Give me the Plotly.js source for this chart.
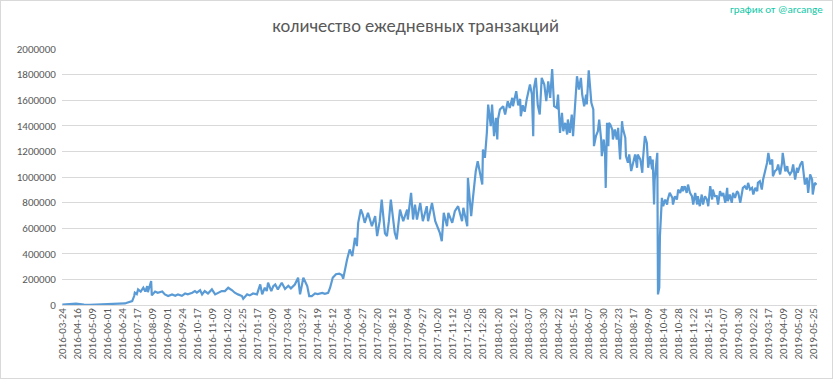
<!DOCTYPE html>
<html>
<head>
<meta charset="utf-8">
<script src="https://cdn.plot.ly/plotly-3.0.1.min.js"></script>
<style>
  html, body { margin: 0; padding: 0; background: #fff; }
  #chart { width: 833px; height: 379px; box-sizing: border-box; border: 1px solid #d9d9d9; }
</style>
</head>
<body>
<div id="chart"></div>
<script>
// ---- data ----
const FIRST_DAY = "2016-03-24";
const LAST_DAY = "2019-05-30";
const MISSING_DAYS = ["2018-08-15", "2018-08-16", "2018-10-02", "2018-10-03", "2018-10-27", "2018-11-20", "2018-11-21"];

const dates = [
"2016-03-24","2016-04-02","2016-04-08","2016-04-14","2016-04-20","2016-04-26","2016-05-05","2016-05-15","2016-05-24","2016-05-30",
"2016-06-05","2016-06-11","2016-06-17","2016-06-23","2016-06-28","2016-07-01","2016-07-06","2016-07-09","2016-07-12","2016-07-13",
"2016-07-16","2016-07-18","2016-07-22","2016-07-26","2016-07-29","2016-08-01","2016-08-02","2016-08-07","2016-08-08","2016-08-13",
"2016-08-17","2016-08-24","2016-08-28","2016-09-02","2016-09-08","2016-09-13","2016-09-17","2016-09-23","2016-09-28","2016-10-02",
"2016-10-09","2016-10-13","2016-10-16","2016-10-21","2016-10-24","2016-10-28","2016-11-02","2016-11-08","2016-11-13","2016-11-17",
"2016-11-23","2016-11-28","2016-12-03","2016-12-09","2016-12-13","2016-12-18","2016-12-24","2016-12-26","2017-01-01","2017-01-05",
"2017-01-10","2017-01-16","2017-01-21","2017-01-24","2017-01-28","2017-01-31","2017-02-02","2017-02-07","2017-02-10","2017-02-13",
"2017-02-17","2017-02-23","2017-02-28","2017-03-05","2017-03-09","2017-03-15","2017-03-20","2017-03-23","2017-03-28","2017-04-03",
"2017-04-06","2017-04-10","2017-04-15","2017-04-19","2017-04-26","2017-04-30","2017-05-05","2017-05-08","2017-05-12","2017-05-17",
"2017-05-22","2017-05-26","2017-05-28","2017-06-03","2017-06-07","2017-06-11","2017-06-15","2017-06-18","2017-06-20","2017-06-24",
"2017-06-27","2017-06-30","2017-07-05","2017-07-11","2017-07-16","2017-07-19","2017-07-23","2017-07-26","2017-07-30","2017-07-31",
"2017-08-03","2017-08-06","2017-08-09","2017-08-12","2017-08-15","2017-08-18","2017-08-23","2017-08-28","2017-09-03","2017-09-04",
"2017-09-09","2017-09-12","2017-09-15","2017-09-18","2017-09-23","2017-09-27","2017-10-03","2017-10-05","2017-10-11","2017-10-16",
"2017-10-19","2017-10-23","2017-10-26","2017-10-29","2017-11-03","2017-11-05","2017-11-11","2017-11-15","2017-11-20","2017-11-26",
"2017-11-28","2017-12-04","2017-12-05","2017-12-10","2017-12-13","2017-12-17","2017-12-20","2017-12-27","2017-12-28","2017-12-31",
"2018-01-03","2018-01-05","2018-01-09","2018-01-11","2018-01-14","2018-01-17","2018-01-19","2018-01-20","2018-01-23","2018-01-28",
"2018-01-31","2018-02-04","2018-02-07","2018-02-11","2018-02-12","2018-02-17","2018-02-20","2018-02-23","2018-02-24","2018-02-27",
"2018-03-02","2018-03-05","2018-03-10","2018-03-13","2018-03-15","2018-03-16","2018-03-19","2018-03-22","2018-03-25","2018-03-28",
"2018-04-01","2018-04-04","2018-04-07","2018-04-10","2018-04-13","2018-04-16","2018-04-20","2018-04-22","2018-04-25","2018-04-28",
"2018-04-30","2018-05-03","2018-05-06","2018-05-07","2018-05-10","2018-05-13","2018-05-15","2018-05-18","2018-05-21","2018-05-24",
"2018-05-27","2018-05-29","2018-06-01","2018-06-04","2018-06-05","2018-06-08","2018-06-12","2018-06-15","2018-06-16","2018-06-19",
"2018-06-22","2018-06-24","2018-06-27","2018-06-28","2018-07-01","2018-07-03","2018-07-04","2018-07-06","2018-07-08","2018-07-09",
"2018-07-11","2018-07-14","2018-07-15","2018-07-18","2018-07-21","2018-07-23","2018-07-26","2018-07-29","2018-07-30","2018-08-03",
"2018-08-04","2018-08-07","2018-08-09","2018-08-12","2018-08-17","2018-08-20","2018-08-23","2018-08-24","2018-08-28","2018-08-31",
"2018-09-01","2018-09-04","2018-09-07","2018-09-09","2018-09-12","2018-09-15","2018-09-16","2018-09-18","2018-09-19","2018-09-23",
"2018-09-24","2018-09-26","2018-09-27","2018-09-30","2018-10-04","2018-10-07","2018-10-10","2018-10-11","2018-10-14","2018-10-18",
"2018-10-19","2018-10-22","2018-10-25","2018-10-28","2018-10-31","2018-11-03","2018-11-04","2018-11-07","2018-11-10","2018-11-12",
"2018-11-15","2018-11-18","2018-11-22","2018-11-25","2018-11-28","2018-11-29","2018-12-02","2018-12-05","2018-12-07","2018-12-10",
"2018-12-13","2018-12-15","2018-12-18","2018-12-21","2018-12-22","2018-12-25","2018-12-28","2018-12-30","2019-01-02","2019-01-05",
"2019-01-07","2019-01-10","2019-01-13","2019-01-14","2019-01-17","2019-01-20","2019-01-22","2019-01-25","2019-01-28","2019-01-30",
"2019-02-02","2019-02-05","2019-02-06","2019-02-09","2019-02-12","2019-02-14","2019-02-17","2019-02-20","2019-02-22","2019-02-25",
"2019-02-28","2019-03-01","2019-03-04","2019-03-07","2019-03-09","2019-03-12","2019-03-15","2019-03-17","2019-03-20","2019-03-23",
"2019-03-24","2019-03-27","2019-03-30","2019-04-01","2019-04-04","2019-04-07","2019-04-08","2019-04-12","2019-04-15","2019-04-16",
"2019-04-19","2019-04-22","2019-04-24","2019-04-27","2019-04-30","2019-05-01","2019-05-05","2019-05-08","2019-05-09","2019-05-12",
"2019-05-15","2019-05-17","2019-05-20","2019-05-23","2019-05-24","2019-05-27","2019-05-30"
];

const transactions = [
3000,8000,10000,10000,8000,3000,2000,3000,4000,8000,
5000,9000,6000,10000,12000,18000,25000,31000,70000,96000,
85000,122000,105000,135000,105000,148000,100000,187000,75000,105000,
95000,105000,83000,70000,83000,72000,83000,72000,90000,83000,
96000,109000,96000,115000,83000,109000,90000,122000,83000,96000,
109000,109000,135000,115000,96000,83000,70000,49000,83000,75000,
90000,83000,161000,83000,135000,109000,174000,109000,148000,160000,
122000,174000,125000,150000,130000,160000,213000,83000,213000,148000,
70000,70000,90000,85000,95000,88000,95000,135000,213000,240000,
245000,235000,205000,356000,434000,382000,525000,460000,642000,746000,
707000,642000,720000,616000,694000,538000,655000,824000,616000,560000,
538000,655000,824000,668000,564000,512000,746000,655000,746000,668000,
876000,668000,785000,668000,798000,655000,772000,655000,798000,655000,
616000,564000,499000,720000,616000,720000,642000,733000,772000,655000,
759000,616000,993000,694000,850000,1045000,1123000,941000,1214000,1150000,
1345000,1566000,1397000,1566000,1319000,1462000,1293000,1449000,1527000,1553000,
1488000,1592000,1540000,1618000,1553000,1670000,1560000,1610000,1475000,1560000,
1510000,1605000,1722000,1644000,1319000,1690000,1774000,1560000,1488000,1774000,
1722000,1592000,1748000,1618000,1844000,1553000,1540000,1644000,1345000,1501000,
1358000,1423000,1332000,1449000,1345000,1488000,1319000,1592000,1787000,1683000,
1774000,1644000,1553000,1644000,1566000,1834000,1579000,1527000,1241000,1319000,
1358000,1449000,1293000,1163000,1293000,1176000,915000,1423000,1241000,1423000,
1410000,1371000,1293000,1371000,1293000,1384000,1137000,1436000,1384000,1306000,
1163000,1111000,1176000,1046000,1123000,1176000,1072000,1176000,1137000,1033000,
1137000,1319000,1267000,1072000,1163000,1059000,1137000,785000,980000,1189000,
83000,135000,538000,837000,772000,824000,785000,824000,876000,837000,
785000,850000,824000,902000,876000,928000,889000,928000,876000,941000,
876000,850000,785000,876000,785000,850000,772000,863000,785000,850000,
824000,772000,928000,824000,902000,850000,850000,785000,889000,850000,
876000,798000,915000,811000,863000,798000,876000,837000,889000,876000,
798000,876000,915000,928000,902000,954000,902000,915000,863000,915000,
889000,954000,967000,902000,980000,1045000,1110000,1189000,1098000,1137000,
1006000,1045000,1059000,1098000,1020000,1111000,1189000,1045000,1085000,1045000,
1020000,1045000,1098000,980000,1072000,1033000,1098000,1123000,1059000,941000,
993000,876000,1020000,980000,863000,954000,941000
];

const TITLE = "количество ежедневных транзакций";
const CREDIT = "график от @arcange";

// ---- category list (one per reported day) ----
function buildCategories() {
  const out = [];
  const skip = new Set(MISSING_DAYS);
  const d = new Date(FIRST_DAY + "T00:00:00Z");
  const end = new Date(LAST_DAY + "T00:00:00Z");
  while (d <= end) {
    const s = d.toISOString().slice(0, 10);
    if (!skip.has(s)) out.push(s);
    d.setUTCDate(d.getUTCDate() + 1);
  }
  return out;
}
const categories = buildCategories();

const FONT = "Carlito, Lato, 'Open Sans', sans-serif";

const trace = {
  type: "scatter",
  mode: "lines",
  x: dates,
  y: transactions,
  line: { color: "#5B9BD5", width: 2.2 },
  hoverinfo: "x+y"
};

const layout = {
  width: 831,
  height: 377,
  margin: { l: 61, r: 15, t: 48, b: 73 },
  paper_bgcolor: "#ffffff",
  plot_bgcolor: "#ffffff",
  showlegend: false,
  font: { family: FONT, color: "#595959", size: 11 },
  title: {
    text: TITLE,
    x: 0.499, xanchor: "center",
    y: 0.935, yanchor: "middle",
    font: { family: FONT, size: 18.5, color: "#595959", weight: 300 }
  },
  xaxis: {
    type: "category",
    categoryorder: "array",
    categoryarray: categories,
    range: [-0.5, categories.length - 0.5],
    tickmode: "linear",
    tick0: 0,
    dtick: 23,
    tickangle: -90,
    showgrid: false,
    showline: false,
    zeroline: false,
    ticks: "",
    tickfont: { family: FONT, size: 11, color: "#595959" }
  },
  yaxis: {
    range: [0, 2000000],
    dtick: 200000,
    tickformat: "d",
    showgrid: true,
    gridcolor: "#d9d9d9",
    gridwidth: 1,
    zeroline: true,
    zerolinecolor: "#d9d9d9",
    zerolinewidth: 1,
    showline: false,
    ticks: "outside",
    ticklen: 3,
    tickcolor: "rgba(0,0,0,0)",
    tickfont: { family: FONT, size: 11, color: "#595959" }
  },
  annotations: [{
    text: CREDIT,
    xref: "paper", yref: "paper",
    x: 1.01, y: 1.155,
    xanchor: "right", yanchor: "middle",
    showarrow: false,
    font: { family: FONT, size: 11, color: "#10c8a8" }
  }]
};

Plotly.newPlot("chart", [trace], layout, { displayModeBar: false, staticPlot: true });
</script>
</body>
</html>
